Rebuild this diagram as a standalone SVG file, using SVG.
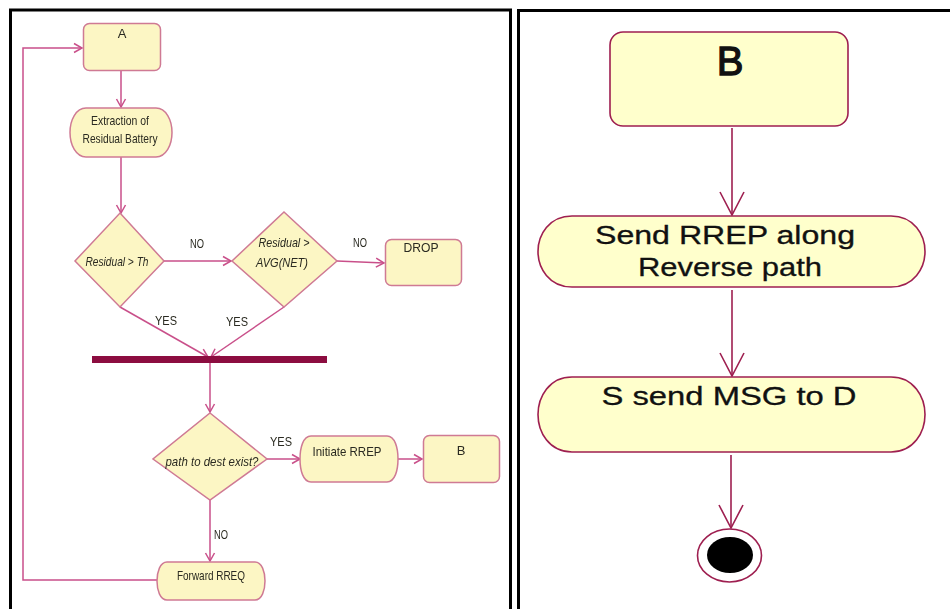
<svg xmlns="http://www.w3.org/2000/svg" width="950" height="609" viewBox="0 0 950 609">
  <style>
    .frame { fill: none; stroke: #000; stroke-width: 3; }
    .lnode { fill: #fcf6c4; stroke: #cf7a94; stroke-width: 1.5; }
    .lconn { fill: none; stroke: #c9508a; stroke-width: 1.5; }
    .ltxt { font-family: "Liberation Sans", Arial, sans-serif; font-size: 13px; fill: #2a2a20; text-anchor: middle; }
    .lit { font-style: italic; }
    .rnode { fill: #ffffcc; stroke: #9e1f50; stroke-width: 1.6; }
    .rconn { fill: none; stroke: #9e1f50; stroke-width: 1.6; }
    .rtxt { font-family: "Liberation Sans", Arial, sans-serif; font-size: 25px; fill: #111; stroke: #111; stroke-width: 0.3; text-anchor: middle; }
    .rbig { font-size: 40px; stroke-width: 1.3; }
  </style>
  <defs>
    <marker id="openL" viewBox="-10 -6 12 12" refX="0" refY="0" markerWidth="12" markerHeight="12" markerUnits="userSpaceOnUse" orient="auto">
      <path d="M-8,-4.5 L0,0 L-8,4.5" fill="none" stroke="#c9508a" stroke-width="1.5"/>
    </marker>
    <marker id="openR" viewBox="-26 -14 28 28" refX="0" refY="0" markerWidth="28" markerHeight="28" markerUnits="userSpaceOnUse" orient="auto">
      <path d="M-23,-12 L0,0 L-23,12" fill="none" stroke="#9e1f50" stroke-width="1.6"/>
    </marker>
    <filter id="soft" x="-5%" y="-5%" width="110%" height="110%">
      <feGaussianBlur stdDeviation="0.4"/>
    </filter>
  </defs>

  <rect width="950" height="609" fill="#fff"/>

  <!-- panel frames -->
  <path class="frame" d="M10.5,609 V10 H510.5 V609"/>
  <path class="frame" d="M518.5,609 V10.5 H950"/>

  <!-- left panel: route request handling -->
  <g id="left-panel" filter="url(#soft)">
    <g id="connectors-left">
      <path class="lconn" d="M121,71 V107" marker-end="url(#openL)"/>
      <path class="lconn" d="M121,157 V213" marker-end="url(#openL)"/>
      <path class="lconn" d="M164,261 H231" marker-end="url(#openL)"/>
      <path class="lconn" d="M337,261 L384,263" marker-end="url(#openL)"/>
      <path class="lconn" d="M120,307 L208,357" marker-end="url(#openL)"/>
      <path class="lconn" d="M284,307 L211,357" marker-end="url(#openL)"/>
      <path class="lconn" d="M210,363 V412" marker-end="url(#openL)"/>
      <path class="lconn" d="M267,459 H300" marker-end="url(#openL)"/>
      <path class="lconn" d="M398,459 H422" marker-end="url(#openL)"/>
      <path class="lconn" d="M210,500 V561" marker-end="url(#openL)"/>
      <path class="lconn" d="M157,580 H23 V48 H82" marker-end="url(#openL)"/>
      <text class="ltxt" x="197" y="248" textLength="14" lengthAdjust="spacingAndGlyphs">NO</text>
      <text class="ltxt" x="360" y="247" textLength="14" lengthAdjust="spacingAndGlyphs">NO</text>
      <text class="ltxt" x="166" y="325" textLength="22" lengthAdjust="spacingAndGlyphs">YES</text>
      <text class="ltxt" x="237" y="326" textLength="22" lengthAdjust="spacingAndGlyphs">YES</text>
      <text class="ltxt" x="281" y="446" textLength="22" lengthAdjust="spacingAndGlyphs">YES</text>
      <text class="ltxt" x="221" y="539" textLength="14" lengthAdjust="spacingAndGlyphs">NO</text>
    </g>

    <g id="node-a">
      <rect class="lnode" x="83.5" y="23.5" width="77" height="47" rx="6"/>
      <text class="ltxt" x="122" y="38">A</text>
    </g>
    <g id="node-extraction">
      <path class="lnode" d="M86,108 H156 C166,108 172,120 172,132.5 C172,145 166,157 156,157 H86 C76,157 70,145 70,132.5 C70,120 76,108 86,108 Z"/>
      <text class="ltxt" x="120" y="125" textLength="58" lengthAdjust="spacingAndGlyphs">Extraction of</text>
      <text class="ltxt" x="120" y="143" textLength="75" lengthAdjust="spacingAndGlyphs">Residual Battery</text>
    </g>
    <g id="node-residual-th">
      <path class="lnode" d="M120,213 L164,261 L120,307 L75,261 Z"/>
      <text class="ltxt lit" x="117" y="266" textLength="63" lengthAdjust="spacingAndGlyphs">Residual &gt; Th</text>
    </g>
    <g id="node-residual-avg">
      <path class="lnode" d="M284,212 L337,261 L284,307 L232,261 Z"/>
      <text class="ltxt lit" x="284" y="247" textLength="51" lengthAdjust="spacingAndGlyphs">Residual &gt;</text>
      <text class="ltxt lit" x="282" y="267" textLength="52" lengthAdjust="spacingAndGlyphs">AVG(NET)</text>
    </g>
    <g id="node-drop">
      <rect class="lnode" x="385.5" y="239.5" width="76" height="46" rx="6"/>
      <text class="ltxt" x="421" y="252" textLength="35" lengthAdjust="spacingAndGlyphs">DROP</text>
    </g>
    <g id="node-join-bar">
      <rect x="92" y="356" width="235" height="7" fill="#8c1040"/>
    </g>
    <g id="node-path-exist">
      <path class="lnode" d="M210,413 L267,459 L210,500 L153,459 Z"/>
      <text class="ltxt lit" x="212" y="466" textLength="93" lengthAdjust="spacingAndGlyphs">path to dest exist?</text>
    </g>
    <g id="node-initiate-rrep">
      <path class="lnode" d="M311,436 H387 C395,436 398,448 398,459 C398,470 395,482 387,482 H311 C303,482 300,470 300,459 C300,448 303,436 311,436 Z"/>
      <text class="ltxt" x="347" y="456" textLength="69" lengthAdjust="spacingAndGlyphs">Initiate RREP</text>
    </g>
    <g id="node-b-small">
      <rect class="lnode" x="423.5" y="435.5" width="76" height="47" rx="6"/>
      <text class="ltxt" x="461" y="455">B</text>
    </g>
    <g id="node-forward-rreq">
      <path class="lnode" d="M167,562 H255 C262,562 265,572 265,581 C265,590 262,600 255,600 H167 C160,600 157,590 157,581 C157,572 160,562 167,562 Z"/>
      <text class="ltxt" x="211" y="580" textLength="68" lengthAdjust="spacingAndGlyphs">Forward RREQ</text>
    </g>
  </g>

  <!-- right panel: route reply -->
  <g id="right-panel">
    <g id="connectors-right">
      <path class="rconn" d="M732,128 V215" marker-end="url(#openR)"/>
      <path class="rconn" d="M732,290 V376" marker-end="url(#openR)"/>
      <path class="rconn" d="M731,455 V528" marker-end="url(#openR)"/>
    </g>
    <g id="node-b">
      <rect class="rnode" x="610" y="32" width="238" height="94" rx="13"/>
      <text class="rtxt rbig" x="730" y="75">B</text>
    </g>
    <g id="node-send-rrep">
      <path class="rnode" d="M572,216 H891 C914,216 925,235 925,251.5 C925,268 914,287 891,287 H572 C549,287 538,268 538,251.5 C538,235 549,216 572,216 Z"/>
      <text class="rtxt" x="725" y="244" textLength="260" lengthAdjust="spacingAndGlyphs">Send RREP along</text>
      <text class="rtxt" x="730" y="276" textLength="184" lengthAdjust="spacingAndGlyphs">Reverse path</text>
    </g>
    <g id="node-send-msg">
      <path class="rnode" d="M572,377 H891 C914,377 925,397 925,414.5 C925,432 914,452 891,452 H572 C549,452 538,432 538,414.5 C538,397 549,377 572,377 Z"/>
      <text class="rtxt" x="729" y="405" textLength="255" lengthAdjust="spacingAndGlyphs">S send MSG to D</text>
    </g>
    <g id="node-end">
      <ellipse cx="729.5" cy="555.5" rx="32" ry="26.5" fill="#fff" stroke="#9e1f50" stroke-width="1.6"/>
      <ellipse cx="730" cy="555" rx="23" ry="18" fill="#000"/>
    </g>
  </g>
</svg>
